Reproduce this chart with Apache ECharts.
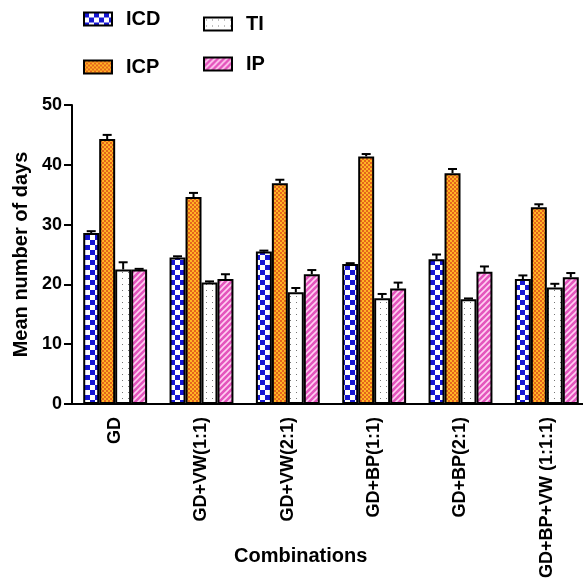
<!DOCTYPE html>
<html>
<head>
<meta charset="utf-8">
<script src="https://cdn.jsdelivr.net/npm/echarts@6/dist/echarts.min.js"></script>
<style>
  html, body { margin: 0; padding: 0; background: #fff; }
  #main { width: 583px; height: 582px; }
</style>
</head>
<body>
<div id="main"></div>
<script>
const categories = ['GD', 'GD+VW(1:1)', 'GD+VW(2:1)', 'GD+BP(1:1)', 'GD+BP(2:1)', 'GD+BP+VW (1:1:1)']
const seriesNames = ['ICD', 'ICP', 'TI', 'IP']

// means
const icd = [28.6, 24.5, 25.5, 23.4, 24.2, 20.9]
const icp = [44.3, 34.6, 36.9, 41.4, 38.6, 32.9]
const ti = [22.5, 20.3, 18.7, 17.7, 17.5, 19.5]
const ip = [22.5, 20.9, 21.7, 19.3, 22.1, 21.2]

// error (above the bar)
const icdErr = [0.3, 0.2, 0.15, 0.15, 0.8, 0.6]
const icpErr = [0.7, 0.7, 0.6, 0.4, 0.7, 0.5]
const tiErr = [1.2, 0.2, 0.7, 0.7, 0.15, 0.6]
const ipErr = [0.1, 0.8, 0.7, 1.0, 0.9, 0.7]

const yTicks = [0, 10, 20, 30, 40, 50]

const FONT = 'Liberation Sans'
const CAT_GAP = 0.26

function makePattern(w, h, draw) {
    const c = document.createElement('canvas')
    c.width = w
    c.height = h
    const ctx = c.getContext('2d')
    draw(ctx)
    return { image: c, repeat: 'repeat' }
}

const patterns = [
    // ICD: blue / white checker
    makePattern(10, 10, ctx => {
        ctx.fillStyle = '#ffffff'
        ctx.fillRect(0, 0, 10, 10)
        ctx.fillStyle = '#1616d2'
        ctx.fillRect(0, 0, 5, 5)
        ctx.fillRect(5, 5, 5, 5)
    }),
    // ICP: orange fine checker
    makePattern(4, 4, ctx => {
        ctx.fillStyle = '#ffb424'
        ctx.fillRect(0, 0, 4, 4)
        ctx.fillStyle = '#e4641c'
        ctx.fillRect(0, 0, 2, 2)
        ctx.fillRect(2, 2, 2, 2)
    }),
    // TI: white with dots
    makePattern(6, 6, ctx => {
        ctx.fillStyle = '#ffffff'
        ctx.fillRect(0, 0, 6, 6)
        ctx.fillStyle = '#777777'
        ctx.fillRect(2, 2, 1, 1)
    }),
    // IP: pink with light diagonal hatch
    makePattern(6, 6, ctx => {
        ctx.fillStyle = '#e455bd'
        ctx.fillRect(0, 0, 6, 6)
        ctx.strokeStyle = '#ffd0f2'
        ctx.lineWidth = 1.6
        ctx.beginPath()
        ctx.moveTo(-1, 7); ctx.lineTo(7, -1)
        ctx.moveTo(-1, 1); ctx.lineTo(1, -1)
        ctx.moveTo(5, 7); ctx.lineTo(7, 5)
        ctx.stroke()
    })
]

const means = [icd, icp, ti, ip]
const errs = [icdErr, icpErr, tiErr, ipErr]

const barSeries = seriesNames.map((name, k) => ({
    name: name,
    type: 'bar',
    data: means[k],
    barGap: '0%',
    barCategoryGap: (CAT_GAP * 100) + '%',
    itemStyle: {
        color: patterns[k],
        borderColor: '#000',
        borderWidth: 2
    },
    z: 2
}))

const errSeries = seriesNames.map((name, k) => ({
    type: 'custom',
    name: name + ' err',
    data: means[k].map((m, i) => [i, m, errs[k][i]]),
    z: 3,
    silent: true,
    renderItem: function (params, api) {
        const band = api.size([1, 0])[0]
        const barW = band * (1 - CAT_GAP) / 4
        const off = (k - 1.5) * barW
        const top = api.coord([api.value(0), api.value(1)])
        const hi = api.coord([api.value(0), api.value(1) + api.value(2)])
        const x = top[0] + off
        const cap = 4.5
        return {
            type: 'group',
            children: [
                { type: 'line', shape: { x1: x, y1: top[1], x2: x, y2: hi[1] }, style: { stroke: '#000', lineWidth: 2 } },
                { type: 'line', shape: { x1: x - cap, y1: hi[1], x2: x + cap, y2: hi[1] }, style: { stroke: '#000', lineWidth: 2 } }
            ]
        }
    }
}))

const legendCommon = {
    orient: 'vertical',
    icon: 'rect',
    itemWidth: 28,
    itemHeight: 13,
    padding: 0,
    selectedMode: false,
    textStyle: {
        fontFamily: FONT,
        fontWeight: 'bold',
        fontSize: 20,
        color: '#000',
        padding: [0, 0, 0, 9]
    }
}

const dom = echarts.init(document.getElementById('main'))
const options = {
    animation: false,
    backgroundColor: '#fff',
    legend: [
        Object.assign({}, legendCommon, { data: ['ICD', 'ICP'], left: 83, top: 9, itemGap: 28 }),
        Object.assign({}, legendCommon, { data: ['TI', 'IP'], left: 203, top: 14, itemGap: 20 })
    ],
    grid: {
        left: 72,
        top: 105,
        width: 518,
        height: 299,
        outerBoundsMode: 'none'
    },
    xAxis: {
        type: 'category',
        data: categories,
        axisLine: { lineStyle: { color: '#000', width: 2 } },
        axisTick: { alignWithLabel: true, length: 8, lineStyle: { color: '#000', width: 2 } },
        axisLabel: {
            rotate: 90,
            interval: 0,
            margin: 13,
            fontFamily: FONT,
            fontWeight: 'bold',
            fontSize: 18,
            color: '#000'
        }
    },
    yAxis: {
        type: 'value',
        min: yTicks[0],
        max: yTicks[yTicks.length - 1],
        interval: yTicks[1] - yTicks[0],
        name: 'Mean number of days',
        nameLocation: 'middle',
        nameGap: 34,
        nameTextStyle: {
            fontFamily: FONT,
            fontWeight: 'bold',
            fontSize: 20,
            color: '#000'
        },
        axisLine: { show: true, lineStyle: { color: '#000', width: 2 } },
        axisTick: { show: true, length: 8, lineStyle: { color: '#000', width: 2 } },
        splitLine: { show: false },
        axisLabel: {
            margin: 10,
            fontFamily: FONT,
            fontWeight: 'bold',
            fontSize: 18,
            color: '#000'
        }
    },
    graphic: [{
        type: 'text',
        left: 303 - 69,
        top: 546,
        style: {
            text: 'Combinations',
            fontFamily: FONT,
            fontWeight: 'bold',
            fontSize: 20,
            fill: '#000'
        }
    }],
    series: barSeries.concat(errSeries)
}
dom.setOption(options)
window.addEventListener('resize', () => dom.resize())
</script>
</body>
</html>
